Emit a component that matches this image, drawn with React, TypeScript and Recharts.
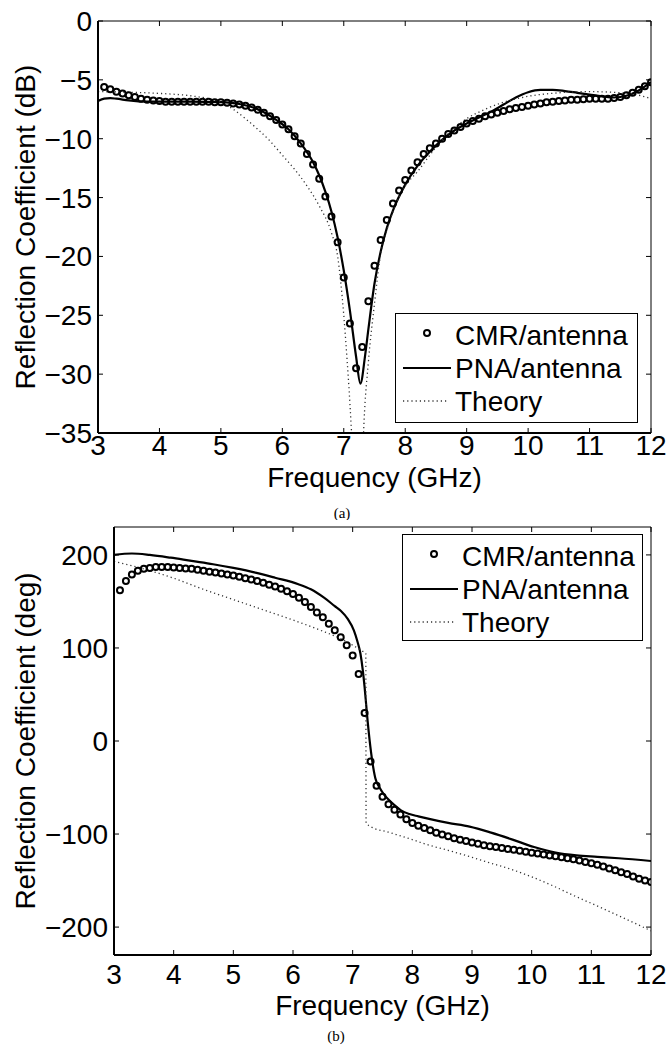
import React, { FC } from 'react';
import { LineChart, Line, XAxis, YAxis, Legend, ReferenceArea } from 'recharts';

const FONT = '"Liberation Sans", Arial, Helvetica, sans-serif';
const SERIF = '"Liberation Serif", "Times New Roman", serif';
const FS = 28;
const TICK_LEN = 5;

// CMR/antenna samples (3.1 to 12.0 GHz)
const CMR_FREQ = [
  3.1, 3.2, 3.3, 3.4, 3.5, 3.6, 3.7, 3.8, 3.9, 4.0,
  4.1, 4.2, 4.3, 4.4, 4.5, 4.6, 4.7, 4.8, 4.9, 5.0,
  5.1, 5.2, 5.3, 5.4, 5.5, 5.6, 5.7, 5.8, 5.9, 6.0,
  6.1, 6.2, 6.3, 6.4, 6.5, 6.6, 6.7, 6.8, 6.9, 7.0,
  7.1, 7.2, 7.3, 7.4, 7.5, 7.6, 7.7, 7.8, 7.9, 8.0,
  8.1, 8.2, 8.3, 8.4, 8.5, 8.6, 8.7, 8.8, 8.9, 9.0,
  9.1, 9.2, 9.3, 9.4, 9.5, 9.6, 9.7, 9.8, 9.9, 10.0,
  10.1, 10.2, 10.3, 10.4, 10.5, 10.6, 10.7, 10.8, 10.9, 11.0,
  11.1, 11.2, 11.3, 11.4, 11.5, 11.6, 11.7, 11.8, 11.9, 12.0,
];
const CMR_DB = [
  -5.6, -5.8, -6.0, -6.15, -6.3, -6.45, -6.6, -6.7, -6.75, -6.8,
  -6.85, -6.85, -6.85, -6.85, -6.85, -6.85, -6.85, -6.85, -6.9, -6.9,
  -6.95, -7.0, -7.1, -7.2, -7.35, -7.55, -7.8, -8.1, -8.4, -8.8,
  -9.2, -9.8, -10.4, -11.3, -12.2, -13.4, -14.9, -16.6, -18.8, -21.8,
  -25.7, -29.5, -27.7, -23.8, -20.8, -18.6, -16.9, -15.5, -14.4, -13.5,
  -12.7, -12.0, -11.3, -10.8, -10.4, -10.0, -9.6, -9.3, -9.0, -8.7,
  -8.5, -8.3, -8.1, -7.95, -7.8, -7.65, -7.5, -7.4, -7.3, -7.2,
  -7.1, -7.0, -6.9, -6.85, -6.8, -6.75, -6.7, -6.7, -6.65, -6.6,
  -6.6, -6.6, -6.6, -6.55, -6.45, -6.3, -6.1, -5.85, -5.55, -5.2,
];
const CMR_DEG = [
  162, 172, 179, 183, 185, 186, 187, 187, 187, 186.5,
  186, 185.5, 185, 184, 183, 182, 181, 180, 179, 178,
  176.5, 175, 173.5, 172, 170, 168, 166, 163.5, 161, 158,
  154, 149.5, 144, 138, 133, 126, 119, 111.5, 103, 92,
  72, 30, -22, -48, -60, -68, -74, -79, -84, -88,
  -91, -93.5, -96, -98.5, -100.5, -102.5, -104.5, -106, -107.5, -109,
  -110.5, -112, -113, -114, -115, -116, -117, -118, -119, -120,
  -121, -122, -123, -124, -125, -126, -127, -128.5, -130, -131.5,
  -133, -135, -137, -139, -141, -143, -145.5, -148, -150, -151.5,
];

// PNA/antenna, magnitude
const PNA_DB_FREQ = [
  3.0, 3.1, 3.2, 3.3, 3.5, 3.8, 4.5, 5.0, 5.3, 5.5,
  5.7, 5.9, 6.1, 6.3, 6.5, 6.6, 6.7, 6.8, 6.9, 7.0,
  7.1, 7.2, 7.27, 7.35, 7.4, 7.5, 7.6, 7.7, 7.8, 8.0,
  8.2, 8.4, 8.6, 8.8, 9.0, 9.2, 9.4, 9.6, 9.8, 10.0,
  10.2, 10.4, 10.6, 10.8, 11.0, 11.2, 11.4, 11.6, 11.8, 12.0,
];
const PNA_DB = [
  -6.8, -6.6, -6.55, -6.6, -6.75, -6.85, -6.85, -6.9, -7.05, -7.3,
  -7.75, -8.4, -9.2, -10.4, -12.0, -13.1, -14.5, -16.2, -18.4, -21.2,
  -24.6, -28.5, -30.8, -28.3, -26.2, -22.3, -19.6, -17.6, -16.1, -13.9,
  -12.3, -11.1, -10.1, -9.3, -8.7, -8.2, -7.7, -7.1, -6.5, -6.05,
  -5.85, -5.85, -5.95, -6.1, -6.25, -6.4, -6.5, -6.35, -5.9, -5.2,
];

// Theory, magnitude
const THEORY_DB_FREQ = [
  3.0, 3.5, 4.0, 4.5, 4.8, 5.0, 5.2, 5.4, 5.6, 5.8,
  6.0, 6.2, 6.4, 6.6, 6.8, 6.9, 7.0, 7.05, 7.1, 7.15,
  7.22, 7.28, 7.33, 7.4, 7.5, 7.6, 7.7, 7.8, 8.0, 8.2,
  8.4, 8.6, 8.8, 9.0, 9.3, 9.6, 10.0, 10.5, 11.0, 11.5,
  11.8, 12.0,
];
const THEORY_DB = [
  -6.0, -6.05, -6.15, -6.35, -6.6, -6.9, -7.5, -8.3, -9.2, -10.2,
  -11.4, -12.6, -14.0, -15.7, -18.0, -20.0, -25.0, -28.5, -32.5, -37.5,
  -48.0, -41.0, -34.0, -29.0, -24.0, -19.8, -17.8, -16.2, -14.0, -12.8,
  -11.4, -10.1, -9.1, -8.3, -7.5, -6.9, -6.4, -6.1, -6.0, -6.1,
  -6.3, -6.6,
];

// PNA/antenna, phase
const PNA_DEG_FREQ = [
  3.0, 3.3, 3.6, 3.95, 4.3, 4.66, 5.0, 5.37, 5.7, 6.09,
  6.3, 6.52, 6.7, 6.8, 6.92, 7.02, 7.08, 7.13, 7.17, 7.2,
  7.25, 7.31, 7.38, 7.45, 7.52, 7.6, 7.7, 7.81, 7.95, 8.1,
  8.3, 8.6, 8.96, 9.32, 9.68, 10.04, 10.4, 10.75, 11.1, 11.46,
  12.0,
];
const PNA_DEG = [
  200, 201.5, 200, 197, 193.5, 190, 186, 181, 175.5, 168.5,
  163, 154, 145, 140, 131, 119, 107, 94, 76, 58,
  22, -13, -40, -50, -57, -63, -69, -74.5, -78.5, -81,
  -84, -88, -92, -98.5, -106, -114, -120, -123, -124.5, -126,
  -129,
];

// Theory, phase
const THEORY_DEG_FREQ = [
  3.0, 3.5, 4.0, 4.5, 5.0, 5.5, 6.0, 6.5, 6.8, 7.0,
  7.15, 7.22, 7.225, 7.3, 7.6, 8.0, 8.23, 8.6, 8.95, 9.3,
  9.66, 10.0, 10.37, 10.7, 11.09, 11.5, 12.0,
];
const THEORY_DEG = [
  193, 185, 175, 163, 152, 141, 130, 118, 110, 103,
  97, 94, -88, -92, -98, -106, -111, -117.5, -124, -131,
  -138, -146, -156, -166, -177, -189, -204,
];

const FREQ_TICKS = [3, 4, 5, 6, 7, 8, 9, 10, 11, 12];
const DB_TICKS = [0, -5, -10, -15, -20, -25, -30, -35];
const DEG_TICKS = [200, 100, 0, -100, -200];
const SERIES_NAMES = ['CMR/antenna', 'PNA/antenna', 'Theory'];

type Row = { f: number; v: number };
const toRows = (fs: number[], vs: number[]): Row[] => fs.map((f, i) => ({ f, v: vs[i] }));
const fmt = (v: number) => (v < 0 ? `\u2212${Math.abs(v)}` : `${v}`);

interface PanelProps {
  width: number;
  height: number;
  plotTop: number;
  plotBottom: number;
  plotLeft: number;
  plotRight: number;
  yDomain: [number, number];
  yTicks: number[];
  yLabel: string;
  cmr: Row[];
  pna: Row[];
  theory: Row[];
  legend: { left: number; top: number; width: number; height: number };
  tickBaseline: number;
  titleBaseline: number;
  tag: string;
  tagX: number;
  tagBaseline: number;
  yTitleX: number;
}

const LegendBox: FC<{ width: number; height: number }> = ({ width, height }) => (
  <svg width={width} height={height} style={{ display: 'block' }}>
    <rect x={0.5} y={0.5} width={width - 1} height={height - 1} fill="#fff" stroke="#000" strokeWidth={1} />
    {SERIES_NAMES.map((name, i) => {
      const cy = 22 + 33 * i;
      return (
        <g key={name}>
          {i === 0 && <circle cx={32} cy={cy - 2} r={3} fill="none" stroke="#000" strokeWidth={2} />}
          {i === 1 && <line x1={8} x2={56} y1={cy} y2={cy} stroke="#000" strokeWidth={2.2} />}
          {i === 2 && (
            <line x1={8} x2={54} y1={cy} y2={cy} stroke="#333" strokeWidth={1.3} strokeDasharray="1.2 3" />
          )}
          <text x={60} y={cy + 10} fontSize={FS} fontFamily={FONT} fill="#000">
            {name}
          </text>
        </g>
      );
    })}
  </svg>
);

const Panel: FC<PanelProps> = (p) => {
  const xTick = (props: any) => {
    const { x, payload } = props;
    return (
      <g>
        <line x1={x} x2={x} y1={p.plotBottom} y2={p.plotBottom - TICK_LEN} stroke="#000" strokeWidth={1} />
        <line x1={x} x2={x} y1={p.plotTop} y2={p.plotTop + TICK_LEN} stroke="#000" strokeWidth={1} />
        <text x={x} y={p.tickBaseline} textAnchor="middle" fontSize={FS} fontFamily={FONT} fill="#000">
          {fmt(payload.value)}
        </text>
      </g>
    );
  };

  const yTick = (props: any) => {
    const { y, payload } = props;
    return (
      <g>
        <line x1={p.plotLeft} x2={p.plotLeft + TICK_LEN} y1={y} y2={y} stroke="#000" strokeWidth={1} />
        <line x1={p.plotRight} x2={p.plotRight - TICK_LEN} y1={y} y2={y} stroke="#000" strokeWidth={1} />
        <text x={p.plotLeft - 6} y={y + 10} textAnchor="end" fontSize={FS} fontFamily={FONT} fill="#000">
          {fmt(payload.value)}
        </text>
      </g>
    );
  };

  const midX = (p.plotLeft + p.plotRight) / 2;
  const midY = (p.plotTop + p.plotBottom) / 2;

  return (
    <LineChart
      width={p.width}
      height={p.height}
      margin={{ top: p.plotTop, right: p.width - p.plotRight, bottom: 0, left: 0 }}
    >
      <ReferenceArea
        x1={3}
        x2={12}
        y1={p.yDomain[0]}
        y2={p.yDomain[1]}
        fill="none"
        stroke="#000"
        strokeWidth={1}
      />
      <XAxis
        dataKey="f"
        type="number"
        domain={[3, 12]}
        ticks={FREQ_TICKS}
        interval={0}
        allowDataOverflow
        height={p.height - p.plotBottom}
        tickSize={0}
        tickMargin={0}
        tickLine={false}
        axisLine={{ stroke: '#000', strokeWidth: 2 }}
        tick={xTick}
        label={{
          content: () => (
            <g>
              <text x={midX} y={p.titleBaseline} textAnchor="middle" fontSize={FS} fontFamily={FONT} fill="#000">
                Frequency (GHz)
              </text>
              <text x={p.tagX} y={p.tagBaseline} textAnchor="middle" fontSize={15} fontFamily={SERIF} fill="#000">
                {p.tag}
              </text>
            </g>
          ),
        }}
      />
      <YAxis
        type="number"
        domain={p.yDomain}
        ticks={p.yTicks}
        interval={0}
        allowDataOverflow
        width={p.plotLeft}
        tickSize={0}
        tickMargin={0}
        tickLine={false}
        axisLine={{ stroke: '#000', strokeWidth: 2 }}
        tick={yTick}
        label={{
          content: () => (
            <text
              x={p.yTitleX}
              y={midY}
              transform={`rotate(-90 ${p.yTitleX} ${midY})`}
              textAnchor="middle"
              fontSize={FS}
              fontFamily={FONT}
              fill="#000"
            >
              {p.yLabel}
            </text>
          ),
        }}
      />
      <Line
        data={p.cmr}
        dataKey="v"
        name={SERIES_NAMES[0]}
        stroke="none"
        dot={{ r: 3, stroke: '#000', strokeWidth: 2, fill: 'none' }}
        activeDot={false}
        isAnimationActive={false}
      />
      <Line
        data={p.pna}
        dataKey="v"
        name={SERIES_NAMES[1]}
        type="monotone"
        stroke="#000"
        strokeWidth={2.2}
        dot={false}
        activeDot={false}
        isAnimationActive={false}
      />
      <Line
        data={p.theory}
        dataKey="v"
        name={SERIES_NAMES[2]}
        type="monotone"
        stroke="#333"
        strokeWidth={1.3}
        strokeDasharray="1.2 3"
        dot={false}
        activeDot={false}
        isAnimationActive={false}
      />
      <Legend
        layout="vertical"
        align="center"
        verticalAlign="middle"
        wrapperStyle={{ left: p.legend.left, top: p.legend.top, width: p.legend.width, height: p.legend.height }}
        content={() => <LegendBox width={p.legend.width} height={p.legend.height} />}
      />
    </LineChart>
  );
};

const App: FC = () => (
  <div style={{ position: 'absolute', left: 0, top: 0, width: 668, height: 1046, background: '#fff' }}>
    <div style={{ position: 'absolute', left: 0, top: 0 }}>
      <Panel
        width={668}
        height={520}
        plotTop={21}
        plotBottom={433}
        plotLeft={98}
        plotRight={651}
        yDomain={[-35, 0]}
        yTicks={DB_TICKS}
        yLabel="Reflection Coefficient (dB)"
        cmr={toRows(CMR_FREQ, CMR_DB)}
        pna={toRows(PNA_DB_FREQ, PNA_DB)}
        theory={toRows(THEORY_DB_FREQ, THEORY_DB)}
        legend={{ left: 395, top: 313, width: 243, height: 110 }}
        tickBaseline={455}
        titleBaseline={487}
        tag="(a)"
        tagX={342}
        tagBaseline={518}
        yTitleX={34.5}
      />
    </div>
    <div style={{ position: 'absolute', left: 0, top: 520 }}>
      <Panel
        width={668}
        height={526}
        plotTop={7}
        plotBottom={435}
        plotLeft={114}
        plotRight={651}
        yDomain={[-230, 230]}
        yTicks={DEG_TICKS}
        yLabel="Reflection Coefficient (deg)"
        cmr={toRows(CMR_FREQ, CMR_DEG)}
        pna={toRows(PNA_DEG_FREQ, PNA_DEG)}
        theory={toRows(THEORY_DEG_FREQ, THEORY_DEG)}
        legend={{ left: 402, top: 14, width: 241, height: 107 }}
        tickBaseline={464}
        titleBaseline={495}
        tag="(b)"
        tagX={336}
        tagBaseline={521}
        yTitleX={34.5}
      />
    </div>
  </div>
);

export default App;
